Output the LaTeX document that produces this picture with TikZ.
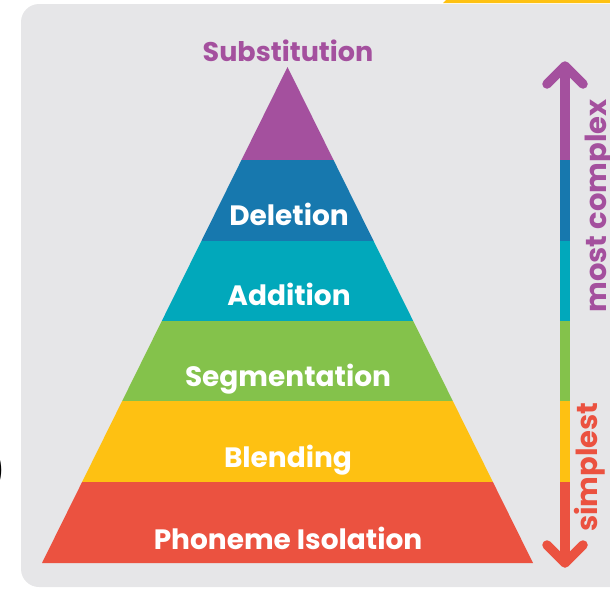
\documentclass[tikz,border=0pt]{standalone}
\usepackage{fontspec}
\setmainfont{Poppins}
\usetikzlibrary{positioning,calc}
\definecolor{cpurple}{HTML}{A4509E}
\definecolor{cblue}{HTML}{1778AE}
\definecolor{cteal}{HTML}{01A8BB}
\definecolor{cgreen}{HTML}{84C24B}
\definecolor{cyellow}{HTML}{FEC112}
\definecolor{cred}{HTML}{EB5240}
\definecolor{cgray}{HTML}{E6E6E8}
\newcommand*{\lbl}[1]{\fontsize{28}{28}\selectfont\bfseries #1}
\newcommand*{\side}[1]{\fontsize{29}{29}\selectfont\bfseries #1}
\tikzset{arrowline/.style={line width=9.5pt}}

\begin{document}
\begin{tikzpicture}[x=1pt,y=-1pt]
\useasboundingbox (0,0) rectangle (610,589);
% Background card and the strip above it
\fill[cgray,rounded corners=18pt] (21,4) rectangle (650,587);
\fill[cyellow] (446,0) -- (610,0) -- (610,3) -- (443,3) -- cycle;
\node[anchor=east,inner sep=0pt,font=\fontsize{44}{44}\selectfont] (paren) at (7,470) {)};
% Corners of the pyramid
\coordinate (apex) at (287.5,67);
\coordinate (bl) at (42,563);
\coordinate (br) at (533,563);
% Points where the layers meet the sides
\coordinate (l1) at ($(apex)!0.1875!(bl)$);
\coordinate (r1) at ($(apex)!0.1875!(br)$);
\coordinate (l2) at ($(apex)!0.3508!(bl)$);
\coordinate (r2) at ($(apex)!0.3508!(br)$);
\coordinate (l3) at ($(apex)!0.5121!(bl)$);
\coordinate (r3) at ($(apex)!0.5121!(br)$);
\coordinate (l4) at ($(apex)!0.6734!(bl)$);
\coordinate (r4) at ($(apex)!0.6734!(br)$);
\coordinate (l5) at ($(apex)!0.8367!(bl)$);
\coordinate (r5) at ($(apex)!0.8367!(br)$);
% The layers
\fill[cpurple] (apex) -- (r1) -- (l1) -- cycle;
\fill[cblue] (l1) -- (r1) -- (r2) -- (l2) -- cycle;
\fill[cteal] (l2) -- (r2) -- (r3) -- (l3) -- cycle;
\fill[cgreen] (l3) -- (r3) -- (r4) -- (l4) -- cycle;
\fill[cyellow] (l4) -- (r4) -- (r5) -- (l5) -- cycle;
\fill[cred] (l5) -- (r5) -- (br) -- (bl) -- cycle;
% Labels
\node[anchor=base,text=cpurple,font=\fontsize{27}{27}\selectfont\bfseries] (subst) at (288,61) {Substitution};
\node[anchor=base,text=white] (delet) at (289,225) {\lbl{Deletion}};
\node[anchor=base,text=white] (addit) at (289,305) {\lbl{Addition}};
\node[anchor=base,text=white] (segm) at (288,386) {\lbl{Segmentation}};
\node[anchor=base,text=white] (blend) at (288,467) {\lbl{Blending}};
\node[anchor=base,text=white] (isol) at (288,549) {\lbl{Phoneme Isolation}};
% Complexity arrow
\coordinate (atop) at (565,66);
\coordinate (abot) at (565,563);
\draw[arrowline,cpurple] (atop) -- (atop |- l1);
\draw[arrowline,cblue] (atop |- l1) -- (atop |- l2);
\draw[arrowline,cteal] (atop |- l2) -- (atop |- l3);
\draw[arrowline,cgreen] (atop |- l3) -- (atop |- l4);
\draw[arrowline,cyellow] (atop |- l4) -- (atop |- l5);
\draw[arrowline,cred] (atop |- l5) -- (abot);
\draw[arrowline,cpurple,line cap=round,line join=round]
  ($(atop)+(-18,18)$) -- (atop) -- ($(atop)+(18,18)$);
\draw[arrowline,cred,line cap=round,line join=round]
  ($(abot)+(-18,-18)$) -- (abot) -- ($(abot)+(18,-18)$);
\node[rotate=90,anchor=base,text=cpurple] (cmplx) at (606,206) {\side{most complex}};
\node[rotate=90,anchor=base,text=cred] (simpl) at (597,467) {\side{simplest}};
\end{tikzpicture}
\end{document}
